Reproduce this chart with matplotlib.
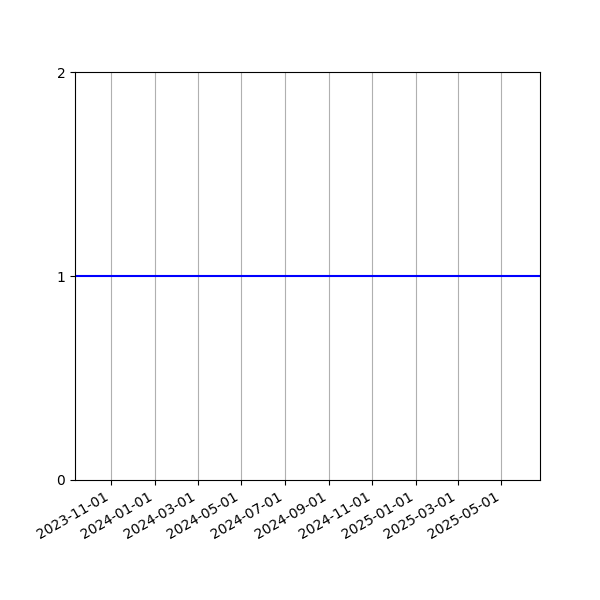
import numpy as np
import pandas as pd
import matplotlib
matplotlib.use('Agg')
import matplotlib.pyplot as plt
import matplotlib.dates as mdates

# Series: constant value over the date range
dates = pd.to_datetime(['2023-09-11', '2025-06-24'])
values = [1, 1]
yticks = [0, 1, 2]

fig = plt.figure(figsize=(6, 6), dpi=100)
ax = fig.add_subplot(111)
ax.plot(dates, values, color='blue')
ax.set_xlim(dates[0], dates[-1])
ax.set_ylim(0, 2)
ax.set_yticks(yticks)
ax.xaxis.set_major_locator(mdates.MonthLocator(bymonth=[1, 3, 5, 7, 9, 11]))
ax.xaxis.set_major_formatter(mdates.DateFormatter('%Y-%m-%d'))
ax.grid(axis='x')
fig.autofmt_xdate()
fig.savefig('out.png', dpi=100)
